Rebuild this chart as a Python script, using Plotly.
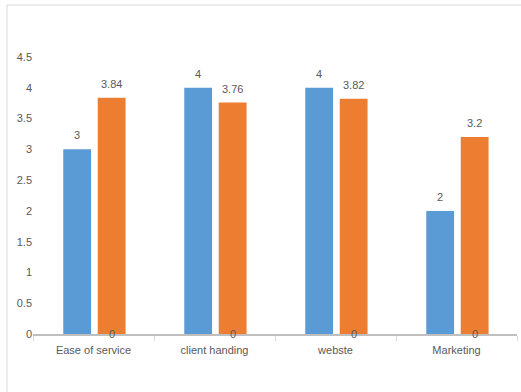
import plotly.graph_objects as go

categories = ["Ease of service", "client handing", "webste", "Marketing"]
series1 = [3, 4, 4, 2]
series2 = [3.84, 3.76, 3.82, 3.2]
series3 = [0, 0, 0, 0]
y_ticks = [0, 0.5, 1, 1.5, 2, 2.5, 3, 3.5, 4, 4.5]

BLUE = "#5B9BD5"
ORANGE = "#ED7D31"
TXT = "#595959"
FONT = "Liberation Sans"

W = 0.23
OFF1 = -0.25
OFF2 = 0.035

fig = go.Figure()
fig.add_trace(go.Bar(x=categories, y=series1, width=W, offset=OFF1,
                     marker=dict(color=BLUE, line=dict(width=0)), name="Series1"))
fig.add_trace(go.Bar(x=categories, y=series2, width=W, offset=OFF2,
                     marker=dict(color=ORANGE, line=dict(width=0)), name="Series2"))

annotations = []
for i, v in enumerate(series1):
    annotations.append(dict(x=i + OFF1 + W / 2, y=v, xref="x", yref="y", text=str(v),
                            showarrow=False, yshift=14, font=dict(size=11, color=TXT, family=FONT)))
for i, v in enumerate(series2):
    annotations.append(dict(x=i + OFF2 + W / 2, y=v, xref="x", yref="y", text=str(v),
                            showarrow=False, yshift=14, font=dict(size=11, color=TXT, family=FONT)))
for i, v in enumerate(series3):
    annotations.append(dict(x=i + OFF2 + W / 2, y=v, xref="x", yref="y", text=str(v),
                            showarrow=False, yshift=0, font=dict(size=11, color=TXT, family=FONT)))

fig.update_layout(
    width=521, height=392,
    margin=dict(l=33, r=4, t=57, b=58, autoexpand=False),
    paper_bgcolor="white", plot_bgcolor="white",
    barmode="overlay", showlegend=False,
    font=dict(family=FONT, size=11, color=TXT),
    annotations=annotations,
    shapes=[dict(type="rect", xref="paper", yref="paper",
                 x0=(7 - 33) / 484, x1=1.2, y0=-0.5, y1=1 + (57 - 5) / 277,
                 line=dict(color="#d9d9d9", width=1), fillcolor="rgba(0,0,0,0)", layer="below")],
)
fig.update_xaxes(type="category", tickson="boundaries", ticks="outside", ticklen=5,
                 tickcolor="#d9d9d9", showline=True, linecolor="#bfbfbf", linewidth=1.5,
                 showgrid=False, zeroline=False, tickfont=dict(size=11, color=TXT, family=FONT),
                 range=[-0.5, 3.5], automargin=False, ticklabelstandoff=5)
fig.update_yaxes(range=[0, 4.5], tickvals=y_ticks, ticktext=[str(t) for t in y_ticks],
                 showgrid=False, zeroline=False, showline=False, automargin=False,
                 tickfont=dict(size=11, color=TXT, family=FONT))

fig.write_html("out.html", config={"displayModeBar": False},
               post_script="document.body.style.margin='0px';")
